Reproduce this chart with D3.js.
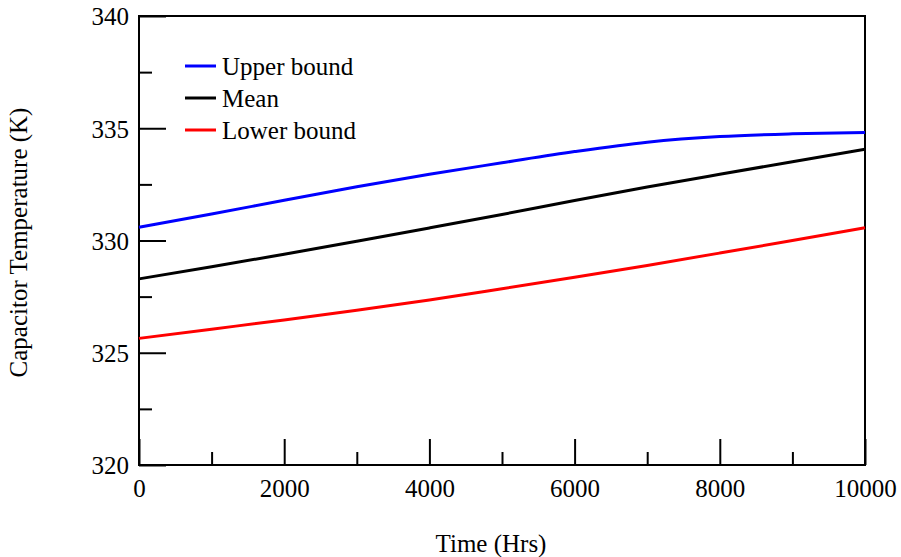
<!DOCTYPE html>
<html>
<head>
<meta charset="utf-8">
<script src="https://cdn.jsdelivr.net/npm/d3@7"></script>
<style>
  body { margin: 0; background: #fff; }
  svg { display: block; }
  text { font-family: "Liberation Serif", "Times New Roman", serif; fill: #000; }
</style>
</head>
<body>
<svg id="chart" width="901" height="557"></svg>
<script>
const time = [0, 1000, 2000, 3000, 4000, 5000, 6000, 7000, 8000, 9000, 10000];
const upperBound = [330.59, 331.18, 331.79, 332.39, 332.95, 333.46, 333.96, 334.38, 334.63, 334.75, 334.81];
const meanTemp = [328.29, 328.83, 329.39, 329.97, 330.56, 331.16, 331.78, 332.38, 332.95, 333.51, 334.06];
const lowerBound = [325.64, 326.05, 326.46, 326.89, 327.35, 327.85, 328.36, 328.89, 329.44, 330.0, 330.57];
const seriesNames = ["Upper bound", "Mean", "Lower bound"];
const seriesColors = ["#0000ff", "#000000", "#ff0000"];
const xMajorTicks = [0, 2000, 4000, 6000, 8000, 10000];
const xMinorTicks = [1000, 3000, 5000, 7000, 9000];
const yMajorTicks = [320, 325, 330, 335, 340];
const yMinorTicks = [322.5, 327.5, 332.5, 337.5];

const svg = d3.select("#chart");
const L = 139, R = 865, T = 16, B = 465;
const x = d3.scaleLinear().domain([0, 10000]).range([L, R]);
const y = d3.scaleLinear().domain([320, 340]).range([B, T]);
const fs = 25;

// frame
svg.append("rect").attr("x", L).attr("y", T).attr("width", R - L).attr("height", B - T)
  .attr("fill", "none").attr("stroke", "#000").attr("stroke-width", 2);

// x axis ticks (inward)
const gx = svg.append("g").attr("transform", `translate(0,${B})`);
gx.call(d3.axisBottom(x).tickValues(xMajorTicks).tickSize(-26).tickFormat(d3.format("d")));
gx.append("g").call(d3.axisBottom(x).tickValues(xMinorTicks).tickSize(-13).tickFormat(""));
gx.selectAll(".domain").remove();
gx.selectAll("line").attr("stroke", "#000").attr("stroke-width", 2);
gx.selectAll("text").attr("font-size", fs).attr("fill", "#000").attr("dy", "1.15em");

// y axis ticks (inward)
const gy = svg.append("g").attr("transform", `translate(${L},0)`);
gy.call(d3.axisLeft(y).tickValues(yMajorTicks).tickSize(-27).tickFormat(d3.format("d")));
gy.append("g").call(d3.axisLeft(y).tickValues(yMinorTicks).tickSize(-13).tickFormat(""));
gy.selectAll(".domain").remove();
gy.selectAll("line").attr("stroke", "#000").attr("stroke-width", 2);
gy.selectAll("text").attr("font-size", fs).attr("fill", "#000").attr("x", -10).attr("dy", "0.35em");

// lines
const allSeries = [upperBound, meanTemp, lowerBound];
const line = d3.line().x((d, i) => x(time[i])).y(d => y(d)).curve(d3.curveMonotoneX);
allSeries.forEach((s, k) => {
  svg.append("path").datum(s).attr("d", line).attr("fill", "none")
    .attr("stroke", seriesColors[k]).attr("stroke-width", 3);
});

// legend
seriesNames.forEach((name, k) => {
  const ly = 66 + k * 32;
  svg.append("line").attr("x1", 185).attr("x2", 216).attr("y1", ly).attr("y2", ly)
    .attr("stroke", seriesColors[k]).attr("stroke-width", 3);
  svg.append("text").attr("x", 222).attr("y", ly).attr("dy", "0.35em")
    .attr("font-size", fs).text(name);
});

// axis titles
svg.append("text").attr("x", 491).attr("y", 543).attr("dy", "0.35em")
  .attr("text-anchor", "middle").attr("font-size", fs).text("Time (Hrs)");
svg.append("text").attr("transform", `translate(18,${(T + B) / 2 + 2}) rotate(-90)`)
  .attr("text-anchor", "middle").attr("dy", "0.35em").attr("font-size", fs)
  .text("Capacitor Temperature (K)");
</script>
</body>
</html>
